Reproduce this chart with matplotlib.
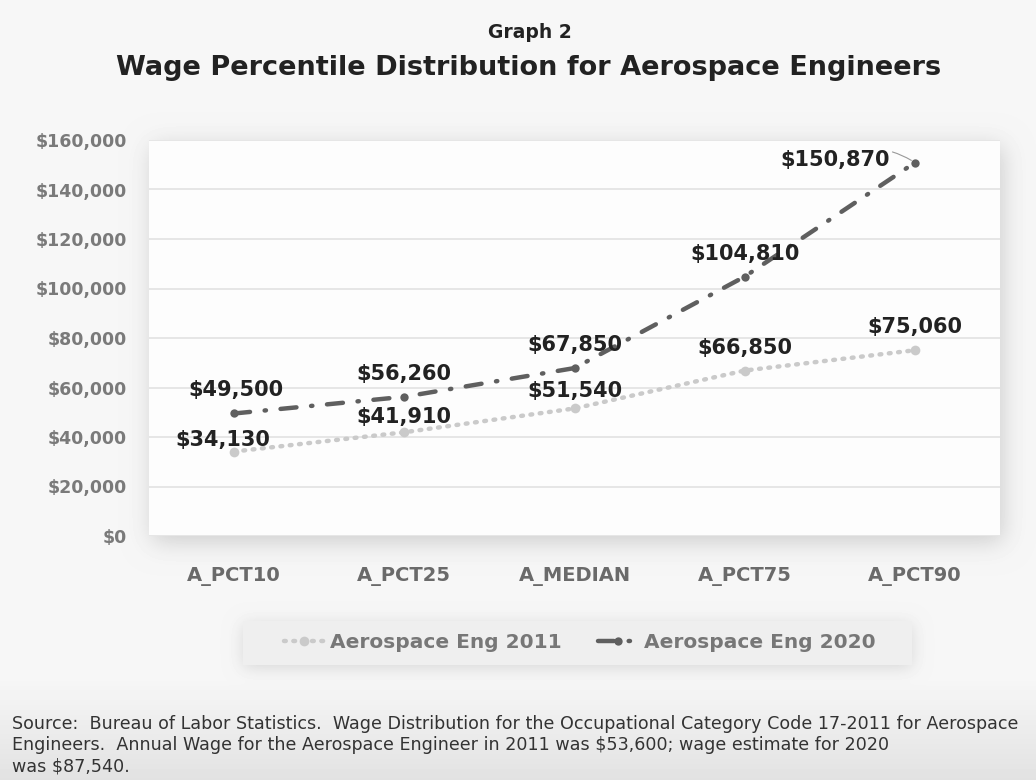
import numpy as np
import matplotlib.pyplot as plt
from matplotlib.ticker import FuncFormatter

W, H = 1036, 780

categories = ['A_PCT10', 'A_PCT25', 'A_MEDIAN', 'A_PCT75', 'A_PCT90']
wages_2011 = [34130, 41910, 51540, 66850, 75060]
wages_2020 = [49500, 56260, 67850, 104810, 150870]
yticks = [0, 20000, 40000, 60000, 80000, 100000, 120000, 140000, 160000]

source_text = ('Source:  Bureau of Labor Statistics.  Wage Distribution for the Occupational '
               'Category Code 17-2011 for Aerospace\n'
               'Engineers.  Annual Wage for the Aerospace Engineer in 2011 was $53,600; '
               'wage estimate for 2020\nwas $87,540.')

BOLD = ['DejaVu Sans']


def blur(img, sigma):
    r = int(3 * sigma)
    k = np.exp(-0.5 * (np.arange(-r, r + 1) / sigma) ** 2)
    k /= k.sum()
    img = np.apply_along_axis(lambda v: np.convolve(v, k, mode='same'), 0, img)
    img = np.apply_along_axis(lambda v: np.convolve(v, k, mode='same'), 1, img)
    return img


def soft_shadow(x0, y0, x1, y1, dx, dy, sigma):
    m = np.zeros((H, W))
    m[y0 + dy:y1 + dy, x0 + dx:x1 + dx] = 1.0
    return blur(m, sigma)


# page background with a darker band at the bottom
bg = np.full((H, W), 0.965)
rows = np.arange(H)
band = np.clip((rows - 680) / 100.0, 0, 1)
bg -= (band * 0.08)[:, None]
bg -= 0.16 * soft_shadow(149, 140, 1000, 536, 3, 6, 12)
bg -= 0.12 * soft_shadow(243, 621, 912, 665, 0, 3, 8)
bg = np.clip(bg, 0, 1)
# legend panel
bg[621:665, 243:912] = 0.937

fig = plt.figure(figsize=(W / 100, H / 100), dpi=100)
bg_ax = fig.add_axes([0, 0, 1, 1], zorder=-10)
bg_ax.imshow(bg, cmap='gray', vmin=0, vmax=1, aspect='auto',
             interpolation='bilinear')
bg_ax.axis('off')

ax = fig.add_axes([149 / W, 1 - 536 / H, 851 / W, 396 / H])
ax.set_facecolor('#fdfdfd')
x = np.arange(len(categories))

ax.plot(x, wages_2011, color='#cacaca', lw=3.2, linestyle=(0, (0.4, 1.7)),
        dash_capstyle='round', marker='o', ms=7, mec='none',
        label='Aerospace Eng 2011', zorder=3)
ax.plot(x, wages_2020, color='#5f5f5f', lw=3.2, linestyle=(0, (3.6, 3.3, 0.3, 3.3)),
        dash_capstyle='round', marker='o', ms=6, mec='none',
        label='Aerospace Eng 2020', zorder=4)

ax.set_xlim(-0.5, 4.5)
ax.set_ylim(0, 160000)
ax.set_yticks(yticks)
ax.yaxis.set_major_formatter(FuncFormatter(lambda v, p: '${:,.0f}'.format(v)))
ax.set_xticks(x)
ax.set_xticklabels(categories)
ax.grid(axis='y', color='#e2e2e2', lw=1.2)
ax.set_axisbelow(True)
for s in ax.spines.values():
    s.set_visible(False)
ax.tick_params(length=0)
ax.tick_params(axis='y', pad=16, labelsize=12.5, labelcolor='#7a7a7a')
ax.tick_params(axis='x', pad=22, labelsize=14, labelcolor='#6a6a6a')
for t in ax.get_xticklabels() + ax.get_yticklabels():
    t.set_fontweight('bold')
    t.set_family(BOLD)

# value labels (offsets in pixels)
off_2011 = [(-11, 12), (0, 15), (0, 17), (0, 23), (0, 23)]
off_2020 = [(2, 23), (0, 23), (0, 23), (0, 23), (-80, 3)]
for xi, v, o in zip(x, wages_2011, off_2011):
    ax.annotate('${:,}'.format(v), (xi, v), xytext=o, textcoords='offset pixels',
                ha='center', va='center', fontsize=15, fontweight='bold',
                color='#222222', family=BOLD, zorder=6)
for i, (xi, v, o) in enumerate(zip(x, wages_2020, off_2020)):
    kw = {}
    if i == len(x) - 1:
        kw['arrowprops'] = dict(arrowstyle='-', color='#999999', lw=0.8,
                                connectionstyle='arc3,rad=-0.3',
                                shrinkA=40, shrinkB=3)
    ax.annotate('${:,}'.format(v), (xi, v), xytext=o, textcoords='offset pixels',
                ha='center', va='center', fontsize=15, fontweight='bold',
                color='#222222', family=BOLD, zorder=6, **kw)

fig.text(530 / W, 1 - 33 / H, 'Graph 2', ha='center', va='center',
         fontsize=13.5, fontweight='bold', color='#222222', family=BOLD)
fig.text(529 / W, 1 - 68 / H, 'Wage Percentile Distribution for Aerospace Engineers',
         ha='center', va='center', fontsize=19.5, fontweight='bold',
         color='#222222', family=BOLD)

leg = fig.legend(loc='center', bbox_to_anchor=(580 / W, 1 - 643 / H), ncol=2,
                 frameon=False, handlelength=2.0,
                 handletextpad=0.3, columnspacing=1.8,
                 prop={'weight': 'bold', 'size': 14.5, 'family': BOLD})
for t in leg.get_texts():
    t.set_color('#777777')

fig.text(12 / W, 1 - 715 / H, source_text, ha='left', va='top', fontsize=12.6,
         color='#333333', family=['Liberation Sans Narrow', 'DejaVu Sans'],
         linespacing=1.25)

fig.savefig('out.png', dpi=100)
